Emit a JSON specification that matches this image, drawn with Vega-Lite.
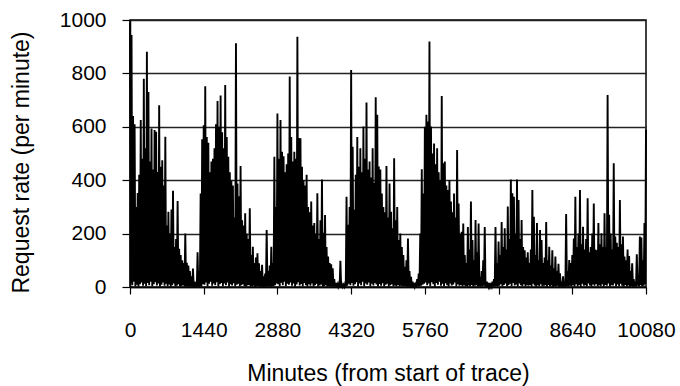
{
"$schema":"https://vega.github.io/schema/vega-lite/v6.json",
"width":516,"height":267,
"autosize":{"type":"none"},
"padding":{"left":130,"top":20,"right":34,"bottom":99},
"background":"white",
"config":{"view":{"stroke":"#000","strokeWidth":1.5},"font":"Liberation Sans, Arial, sans-serif"},
"data":{"values":[
{"t":0,"v":990},{"t":15,"v":13},{"t":30,"v":944},{"t":45,"v":7},{"t":60,"v":640},{"t":75,"v":20},{"t":90,"v":610},{"t":105,"v":3},{"t":120,"v":300},{"t":135,"v":8},{"t":150,"v":352},{"t":165,"v":2},{"t":180,"v":420},{"t":195,"v":10},{"t":210,"v":625},{"t":225,"v":17},{"t":240,"v":480},{"t":255,"v":5},{"t":270,"v":780},{"t":285,"v":12},{"t":300,"v":520},{"t":315,"v":3},{"t":330,"v":881},{"t":345,"v":15},{"t":360,"v":730},{"t":375,"v":7},{"t":390,"v":470},{"t":405,"v":20},{"t":420,"v":594},{"t":435,"v":4},{"t":450,"v":440},{"t":465,"v":10},{"t":480,"v":588},{"t":495,"v":18},{"t":510,"v":581},{"t":525,"v":6},{"t":540,"v":431},{"t":555,"v":13},{"t":570,"v":681},{"t":585,"v":2},{"t":600,"v":450},{"t":615,"v":8},{"t":630,"v":475},{"t":645,"v":17},{"t":660,"v":380},{"t":675,"v":5},{"t":690,"v":563},{"t":705,"v":12},{"t":720,"v":230},{"t":735,"v":3},{"t":750,"v":282},{"t":765,"v":9},{"t":780,"v":200},{"t":795,"v":2},{"t":810,"v":290},{"t":825,"v":7},{"t":840,"v":360},{"t":855,"v":13},{"t":870,"v":150},{"t":885,"v":3},{"t":900,"v":180},{"t":915,"v":5},{"t":930,"v":322},{"t":945,"v":10},{"t":960,"v":143},{"t":975,"v":2},{"t":990,"v":120},{"t":1005,"v":4},{"t":1020,"v":100},{"t":1035,"v":7},{"t":1050,"v":90},{"t":1065,"v":2},{"t":1080,"v":200},{"t":1095,"v":3},{"t":1110,"v":91},{"t":1125,"v":1},{"t":1140,"v":80},{"t":1155,"v":3},{"t":1170,"v":60},{"t":1185,"v":1},{"t":1200,"v":40},{"t":1215,"v":2},{"t":1230,"v":69},{"t":1245,"v":0},{"t":1260,"v":20},{"t":1275,"v":1},{"t":1290,"v":10},{"t":1305,"v":0},{"t":1320,"v":130},{"t":1335,"v":1},{"t":1350,"v":60},{"t":1365,"v":1},{"t":1380,"v":350},{"t":1395,"v":3},{"t":1410,"v":553},{"t":1425,"v":10},
{"t":1440,"v":606},{"t":1455,"v":8},{"t":1470,"v":752},{"t":1485,"v":17},{"t":1500,"v":562},{"t":1515,"v":3},{"t":1530,"v":540},{"t":1545,"v":12},{"t":1560,"v":430},{"t":1575,"v":20},{"t":1590,"v":470},{"t":1605,"v":5},{"t":1620,"v":480},{"t":1635,"v":13},{"t":1650,"v":520},{"t":1665,"v":7},{"t":1680,"v":610},{"t":1695,"v":18},{"t":1710,"v":697},{"t":1725,"v":3},{"t":1740,"v":600},{"t":1755,"v":10},{"t":1770,"v":717},{"t":1785,"v":15},{"t":1800,"v":580},{"t":1815,"v":4},{"t":1830,"v":520},{"t":1845,"v":13},{"t":1860,"v":757},{"t":1875,"v":7},{"t":1890,"v":562},{"t":1905,"v":17},{"t":1920,"v":488},{"t":1935,"v":2},{"t":1950,"v":430},{"t":1965,"v":10},{"t":1980,"v":400},{"t":1995,"v":6},{"t":2010,"v":380},{"t":2025,"v":14},{"t":2040,"v":260},{"t":2055,"v":3},{"t":2070,"v":913},{"t":2085,"v":8},{"t":2100,"v":388},{"t":2115,"v":12},{"t":2130,"v":340},{"t":2145,"v":3},{"t":2160,"v":453},{"t":2175,"v":7},{"t":2190,"v":250},{"t":2205,"v":10},{"t":2220,"v":230},{"t":2235,"v":4},{"t":2250,"v":276},{"t":2265,"v":2},{"t":2280,"v":200},{"t":2295,"v":6},{"t":2310,"v":180},{"t":2325,"v":8},{"t":2340,"v":295},{"t":2355,"v":2},{"t":2370,"v":120},{"t":2385,"v":3},{"t":2400,"v":151},{"t":2415,"v":5},{"t":2430,"v":90},{"t":2445,"v":1},{"t":2460,"v":110},{"t":2475,"v":3},{"t":2490,"v":126},{"t":2505,"v":4},{"t":2520,"v":89},{"t":2535,"v":1},{"t":2550,"v":60},{"t":2565,"v":2},{"t":2580,"v":83},{"t":2595,"v":1},{"t":2610,"v":40},{"t":2625,"v":0},{"t":2640,"v":50},{"t":2655,"v":2},{"t":2670,"v":213},{"t":2685,"v":1},{"t":2700,"v":60},{"t":2715,"v":3},{"t":2730,"v":80},{"t":2745,"v":1},{"t":2760,"v":151},{"t":2775,"v":2},{"t":2790,"v":90},{"t":2805,"v":3},{"t":2820,"v":488},{"t":2835,"v":7},{"t":2850,"v":300},{"t":2865,"v":13},
{"t":2880,"v":650},{"t":2895,"v":10},{"t":2910,"v":480},{"t":2925,"v":4},{"t":2940,"v":625},{"t":2955,"v":16},{"t":2970,"v":507},{"t":2985,"v":7},{"t":3000,"v":490},{"t":3015,"v":20},{"t":3030,"v":430},{"t":3045,"v":3},{"t":3060,"v":460},{"t":3075,"v":12},{"t":3090,"v":500},{"t":3105,"v":8},{"t":3120,"v":788},{"t":3135,"v":17},{"t":3150,"v":562},{"t":3165,"v":5},{"t":3180,"v":470},{"t":3195,"v":13},{"t":3210,"v":507},{"t":3225,"v":2},{"t":3240,"v":480},{"t":3255,"v":9},{"t":3270,"v":937},{"t":3285,"v":18},{"t":3300,"v":558},{"t":3315,"v":6},{"t":3330,"v":557},{"t":3345,"v":11},{"t":3360,"v":450},{"t":3375,"v":3},{"t":3390,"v":401},{"t":3405,"v":15},{"t":3420,"v":380},{"t":3435,"v":7},{"t":3450,"v":420},{"t":3465,"v":2},{"t":3480,"v":300},{"t":3495,"v":10},{"t":3510,"v":280},{"t":3525,"v":5},{"t":3540,"v":320},{"t":3555,"v":13},{"t":3570,"v":230},{"t":3585,"v":3},{"t":3600,"v":240},{"t":3615,"v":7},{"t":3630,"v":200},{"t":3645,"v":12},{"t":3660,"v":351},{"t":3675,"v":3},{"t":3690,"v":180},{"t":3705,"v":6},{"t":3720,"v":250},{"t":3735,"v":9},{"t":3750,"v":403},{"t":3765,"v":2},{"t":3780,"v":203},{"t":3795,"v":4},{"t":3810,"v":270},{"t":3825,"v":7},{"t":3840,"v":150},{"t":3855,"v":2},{"t":3870,"v":114},{"t":3885,"v":3},{"t":3900,"v":90},{"t":3915,"v":1},{"t":3930,"v":85},{"t":3945,"v":3},{"t":3960,"v":70},{"t":3975,"v":1},{"t":3990,"v":30},{"t":4005,"v":1},{"t":4020,"v":15},{"t":4035,"v":0},{"t":4050,"v":10},{"t":4065,"v":1},{"t":4080,"v":12},{"t":4095,"v":1},{"t":4110,"v":98},{"t":4125,"v":0},{"t":4140,"v":10},{"t":4155,"v":1},{"t":4170,"v":8},{"t":4185,"v":1},{"t":4200,"v":12},{"t":4215,"v":2},{"t":4230,"v":338},{"t":4245,"v":5},{"t":4260,"v":233},{"t":4275,"v":12},{"t":4290,"v":300},{"t":4305,"v":7},
{"t":4320,"v":813},{"t":4335,"v":15},{"t":4350,"v":525},{"t":4365,"v":5},{"t":4380,"v":289},{"t":4395,"v":10},{"t":4410,"v":420},{"t":4425,"v":18},{"t":4440,"v":562},{"t":4455,"v":3},{"t":4470,"v":450},{"t":4485,"v":13},{"t":4500,"v":520},{"t":4515,"v":7},{"t":4530,"v":430},{"t":4545,"v":20},{"t":4560,"v":601},{"t":4575,"v":4},{"t":4590,"v":480},{"t":4605,"v":13},{"t":4620,"v":691},{"t":4635,"v":8},{"t":4650,"v":440},{"t":4665,"v":17},{"t":4680,"v":470},{"t":4695,"v":3},{"t":4710,"v":410},{"t":4725,"v":12},{"t":4740,"v":520},{"t":4755,"v":6},{"t":4770,"v":390},{"t":4785,"v":15},{"t":4800,"v":711},{"t":4815,"v":9},{"t":4830,"v":645},{"t":4845,"v":2},{"t":4860,"v":451},{"t":4875,"v":11},{"t":4890,"v":440},{"t":4905,"v":5},{"t":4920,"v":350},{"t":4935,"v":14},{"t":4950,"v":300},{"t":4965,"v":3},{"t":4980,"v":280},{"t":4995,"v":8},{"t":5010,"v":453},{"t":5025,"v":12},{"t":5040,"v":260},{"t":5055,"v":2},{"t":5070,"v":388},{"t":5085,"v":7},{"t":5100,"v":282},{"t":5115,"v":10},{"t":5130,"v":220},{"t":5145,"v":4},{"t":5160,"v":482},{"t":5175,"v":6},{"t":5190,"v":250},{"t":5205,"v":3},{"t":5220,"v":300},{"t":5235,"v":8},{"t":5250,"v":176},{"t":5265,"v":3},{"t":5280,"v":200},{"t":5295,"v":5},{"t":5310,"v":150},{"t":5325,"v":2},{"t":5340,"v":120},{"t":5355,"v":4},{"t":5370,"v":76},{"t":5385,"v":3},{"t":5400,"v":100},{"t":5415,"v":1},{"t":5430,"v":182},{"t":5445,"v":2},{"t":5460,"v":60},{"t":5475,"v":1},{"t":5490,"v":38},{"t":5505,"v":0},{"t":5520,"v":20},{"t":5535,"v":1},{"t":5550,"v":15},{"t":5565,"v":1},{"t":5580,"v":10},{"t":5595,"v":1},{"t":5610,"v":30},{"t":5625,"v":2},{"t":5640,"v":50},{"t":5655,"v":3},{"t":5670,"v":200},{"t":5685,"v":5},{"t":5700,"v":441},{"t":5715,"v":8},{"t":5730,"v":350},{"t":5745,"v":12},
{"t":5760,"v":600},{"t":5775,"v":17},{"t":5790,"v":645},{"t":5805,"v":7},{"t":5820,"v":620},{"t":5835,"v":13},{"t":5850,"v":919},{"t":5865,"v":4},{"t":5880,"v":601},{"t":5895,"v":18},{"t":5910,"v":500},{"t":5925,"v":10},{"t":5940,"v":537},{"t":5955,"v":3},{"t":5970,"v":460},{"t":5985,"v":15},{"t":6000,"v":520},{"t":6015,"v":8},{"t":6030,"v":430},{"t":6045,"v":20},{"t":6060,"v":400},{"t":6075,"v":5},{"t":6090,"v":715},{"t":6105,"v":12},{"t":6120,"v":463},{"t":6135,"v":3},{"t":6150,"v":470},{"t":6165,"v":14},{"t":6180,"v":380},{"t":6195,"v":7},{"t":6210,"v":363},{"t":6225,"v":2},{"t":6240,"v":400},{"t":6255,"v":13},{"t":6270,"v":320},{"t":6285,"v":6},{"t":6300,"v":280},{"t":6315,"v":9},{"t":6330,"v":350},{"t":6345,"v":17},{"t":6360,"v":260},{"t":6375,"v":3},{"t":6390,"v":513},{"t":6405,"v":10},{"t":6420,"v":313},{"t":6435,"v":5},{"t":6450,"v":200},{"t":6465,"v":8},{"t":6480,"v":207},{"t":6495,"v":3},{"t":6510,"v":238},{"t":6525,"v":7},{"t":6540,"v":120},{"t":6555,"v":4},{"t":6570,"v":90},{"t":6585,"v":2},{"t":6600,"v":225},{"t":6615,"v":6},{"t":6630,"v":140},{"t":6645,"v":3},{"t":6660,"v":320},{"t":6675,"v":8},{"t":6690,"v":176},{"t":6705,"v":2},{"t":6720,"v":100},{"t":6735,"v":5},{"t":6750,"v":251},{"t":6765,"v":7},{"t":6780,"v":130},{"t":6795,"v":1},{"t":6810,"v":238},{"t":6825,"v":4},{"t":6840,"v":38},{"t":6855,"v":2},{"t":6870,"v":60},{"t":6885,"v":3},{"t":6900,"v":100},{"t":6915,"v":5},{"t":6930,"v":225},{"t":6945,"v":1},{"t":6960,"v":20},{"t":6975,"v":0},{"t":6990,"v":10},{"t":7005,"v":1},{"t":7020,"v":15},{"t":7035,"v":0},{"t":7050,"v":8},{"t":7065,"v":1},{"t":7080,"v":20},{"t":7095,"v":2},{"t":7110,"v":30},{"t":7125,"v":3},{"t":7140,"v":225},{"t":7155,"v":4},{"t":7170,"v":90},{"t":7185,"v":3},
{"t":7200,"v":170},{"t":7215,"v":5},{"t":7230,"v":120},{"t":7245,"v":10},{"t":7260,"v":243},{"t":7275,"v":3},{"t":7290,"v":150},{"t":7305,"v":8},{"t":7320,"v":220},{"t":7335,"v":13},{"t":7350,"v":140},{"t":7365,"v":4},{"t":7380,"v":301},{"t":7395,"v":7},{"t":7410,"v":180},{"t":7425,"v":12},{"t":7440,"v":403},{"t":7455,"v":3},{"t":7470,"v":351},{"t":7485,"v":15},{"t":7500,"v":338},{"t":7515,"v":6},{"t":7530,"v":200},{"t":7545,"v":9},{"t":7560,"v":403},{"t":7575,"v":2},{"t":7590,"v":326},{"t":7605,"v":13},{"t":7620,"v":180},{"t":7635,"v":7},{"t":7650,"v":251},{"t":7665,"v":4},{"t":7680,"v":150},{"t":7695,"v":10},{"t":7710,"v":138},{"t":7725,"v":3},{"t":7740,"v":110},{"t":7755,"v":7},{"t":7770,"v":130},{"t":7785,"v":5},{"t":7800,"v":90},{"t":7815,"v":8},{"t":7830,"v":140},{"t":7845,"v":3},{"t":7860,"v":363},{"t":7875,"v":12},{"t":7890,"v":263},{"t":7905,"v":6},{"t":7920,"v":120},{"t":7935,"v":2},{"t":7950,"v":240},{"t":7965,"v":7},{"t":7980,"v":100},{"t":7995,"v":4},{"t":8010,"v":213},{"t":8025,"v":10},{"t":8040,"v":176},{"t":8055,"v":3},{"t":8070,"v":90},{"t":8085,"v":5},{"t":8100,"v":110},{"t":8115,"v":7},{"t":8130,"v":243},{"t":8145,"v":2},{"t":8160,"v":100},{"t":8175,"v":8},{"t":8190,"v":151},{"t":8205,"v":3},{"t":8220,"v":80},{"t":8235,"v":6},{"t":8250,"v":138},{"t":8265,"v":1},{"t":8280,"v":70},{"t":8295,"v":4},{"t":8310,"v":114},{"t":8325,"v":3},{"t":8340,"v":60},{"t":8355,"v":5},{"t":8370,"v":87},{"t":8385,"v":1},{"t":8400,"v":51},{"t":8415,"v":2},{"t":8430,"v":20},{"t":8445,"v":1},{"t":8460,"v":40},{"t":8475,"v":3},{"t":8490,"v":15},{"t":8505,"v":1},{"t":8520,"v":273},{"t":8535,"v":4},{"t":8550,"v":60},{"t":8565,"v":2},{"t":8580,"v":101},{"t":8595,"v":5},{"t":8610,"v":90},{"t":8625,"v":3},
{"t":8640,"v":120},{"t":8655,"v":7},{"t":8670,"v":182},{"t":8685,"v":3},{"t":8700,"v":338},{"t":8715,"v":10},{"t":8730,"v":150},{"t":8745,"v":4},{"t":8760,"v":200},{"t":8775,"v":8},{"t":8790,"v":363},{"t":8805,"v":2},{"t":8820,"v":160},{"t":8835,"v":12},{"t":8850,"v":226},{"t":8865,"v":5},{"t":8880,"v":140},{"t":8895,"v":7},{"t":8910,"v":180},{"t":8925,"v":3},{"t":8940,"v":332},{"t":8955,"v":13},{"t":8970,"v":130},{"t":8985,"v":6},{"t":9000,"v":150},{"t":9015,"v":2},{"t":9030,"v":200},{"t":9045,"v":9},{"t":9060,"v":313},{"t":9075,"v":5},{"t":9090,"v":140},{"t":9105,"v":11},{"t":9120,"v":138},{"t":9135,"v":3},{"t":9150,"v":240},{"t":9165,"v":7},{"t":9180,"v":160},{"t":9195,"v":4},{"t":9210,"v":201},{"t":9225,"v":10},{"t":9240,"v":150},{"t":9255,"v":2},{"t":9270,"v":276},{"t":9285,"v":8},{"t":9300,"v":150},{"t":9315,"v":5},{"t":9330,"v":719},{"t":9345,"v":13},{"t":9360,"v":271},{"t":9375,"v":3},{"t":9390,"v":200},{"t":9405,"v":7},{"t":9420,"v":140},{"t":9435,"v":6},{"t":9450,"v":463},{"t":9465,"v":13},{"t":9480,"v":189},{"t":9495,"v":3},{"t":9510,"v":166},{"t":9525,"v":9},{"t":9540,"v":150},{"t":9555,"v":4},{"t":9570,"v":326},{"t":9585,"v":12},{"t":9600,"v":160},{"t":9615,"v":5},{"t":9630,"v":189},{"t":9645,"v":2},{"t":9660,"v":114},{"t":9675,"v":8},{"t":9690,"v":100},{"t":9705,"v":3},{"t":9720,"v":140},{"t":9735,"v":6},{"t":9750,"v":116},{"t":9765,"v":1},{"t":9780,"v":60},{"t":9795,"v":4},{"t":9810,"v":89},{"t":9825,"v":1},{"t":9840,"v":30},{"t":9855,"v":3},{"t":9870,"v":20},{"t":9885,"v":2},{"t":9900,"v":123},{"t":9915,"v":5},{"t":9930,"v":40},{"t":9945,"v":3},{"t":9960,"v":189},{"t":9975,"v":7},{"t":9990,"v":185},{"t":10005,"v":3},{"t":10020,"v":100},{"t":10035,"v":5},{"t":10050,"v":240},{"t":10065,"v":10},{"t":10080,"v":590}
]},
"mark":{"type":"line","color":"#000","strokeWidth":1.9},
"encoding":{
"x":{"field":"t","type":"quantitative","scale":{"domain":[0,10080],"nice":false,"zero":false},
 "axis":{"values":[0,1440,2880,4320,5760,7200,8640,10080],"format":"d","title":"Minutes (from start of trace)","grid":false,
 "domainColor":"#000","domainWidth":1.5,"tickColor":"#000","tickWidth":1.2,"tickSize":7,
 "labelFontSize":21,"labelColor":"#000","labelBaseline":"alphabetic","labelPadding":42,"labelFlush":false,"labelOverlap":false,
 "titleFontSize":23,"titleFontWeight":"normal","titleColor":"#000","titleBaseline":"alphabetic","titleY":93}},
"y":{"field":"v","type":"quantitative","scale":{"domain":[0,1000],"nice":false},
 "axis":{"values":[0,200,400,600,800,1000],"format":"d","title":"Request rate (per minute)","grid":true,"gridColor":"#222","gridWidth":1.3,
 "domainColor":"#000","domainWidth":1.5,"tickColor":"#000","tickWidth":1.2,"tickSize":8,
 "labelFontSize":21,"labelColor":"#000","labelPadding":16,"labelFlush":false,"labelOverlap":false,
 "titleFontSize":23,"titleFontWeight":"normal","titleColor":"#000","titleBaseline":"alphabetic","titleX":-102,"titleY":142,"titleAngle":-90,"titleAlign":"center"}}
}
}
